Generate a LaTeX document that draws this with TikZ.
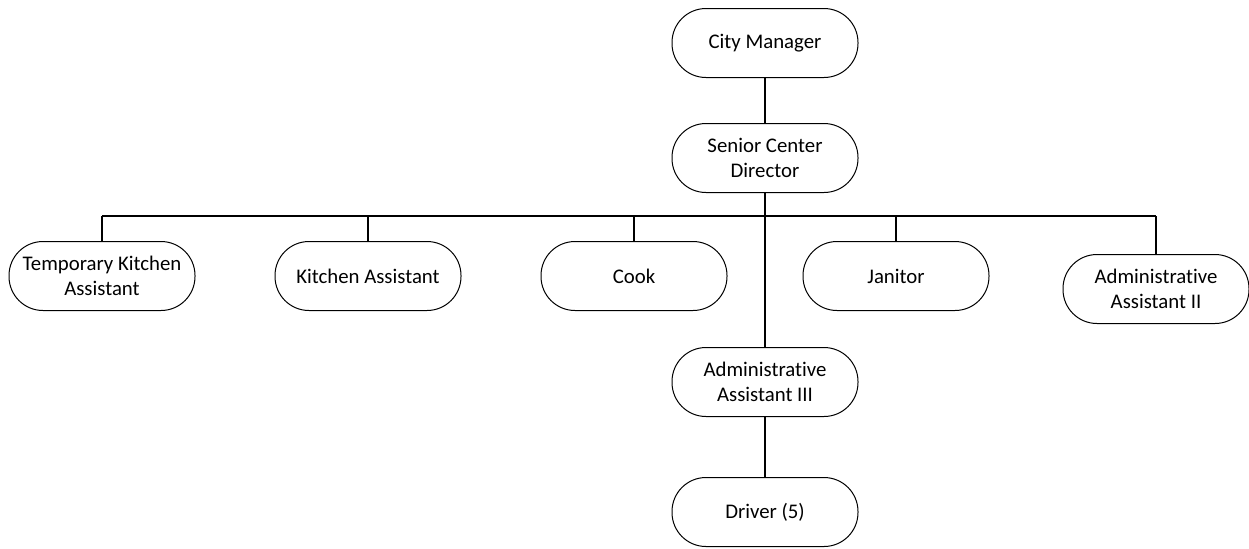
\documentclass[tikz,border=0pt]{standalone}
\usepackage{fontspec}
\setmainfont{Carlito}[RawFeature={-liga;-clig;-calt;-dlig}]
\begin{document}
\begin{tikzpicture}[x=0.5pt, y=-0.5pt,
			box/.style={draw, line width=0.5pt, rounded corners=17pt, minimum width=93pt, minimum height=34.5pt, inner sep=1pt, align=center, font=\fontsize{10.4}{12.6}\selectfont},
			conn/.style={line width=1pt}]
			%Bildbereich
			\useasboundingbox (0,0) rectangle (1249,548);
			% Leitung
			\node[box] (cityman) at (765,43) {City Manager};
			\node[box] (director) at (765,158) {Senior Center\\Director};
			% Mitarbeiter
			\node[box] (tempkitchen) at (102,276) {Temporary Kitchen\\Assistant};
			\node[box] (kitchen) at (368,276) {Kitchen Assistant};
			\node[box] (cook) at (634,276) {Cook};
			\node[box] (janitor) at (896,276) {Janitor};
			\node[box] (assisttwo) at (1156,289) {Administrative\\Assistant II};
			\node[box] (assistthree) at (765,382) {Administrative\\Assistant III};
			\node[box] (driver) at (765,512) {Driver (5)};
			% Verbindungen
			\coordinate (bus) at (765,216);
			\draw[conn] (cityman) -- (director);
			\draw[conn] (director) -- (assistthree);
			\draw[conn] (assistthree) -- (driver);
			\draw[conn] (tempkitchen.north |- bus) -- (assisttwo.north |- bus);
			\foreach \n in {tempkitchen,kitchen,cook,janitor,assisttwo} \draw[conn] (\n.north) -- (\n.north |- bus);
		\end{tikzpicture}
\end{document}
